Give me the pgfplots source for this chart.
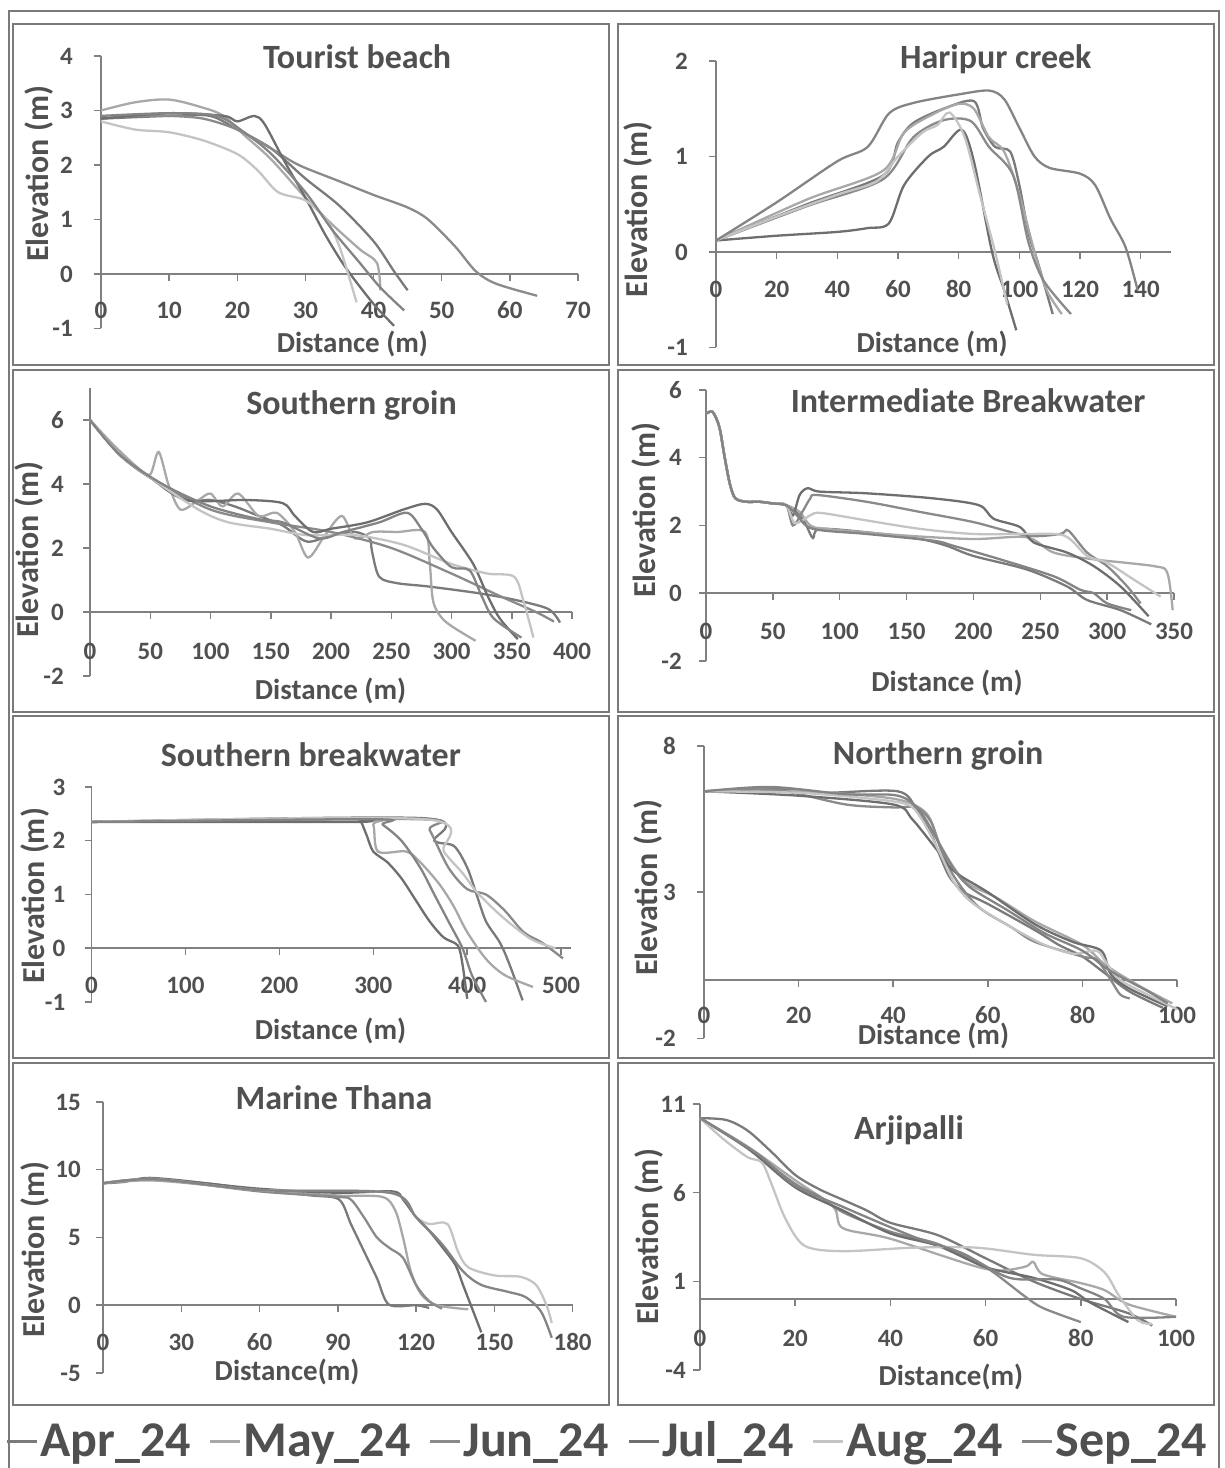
\documentclass[border=0pt]{standalone}
\usepackage{fontspec}
\setmainfont{Carlito}
\usepackage{pgfplots}
\pgfplotsset{compat=1.18}

\definecolor{axgray}{HTML}{808080}
\definecolor{boxgray}{HTML}{7A7A7A}
\definecolor{txtgray}{HTML}{505050}
\definecolor{capr}{HTML}{7A7A7A}
\definecolor{cmay}{HTML}{A8A8A8}
\definecolor{cjun}{HTML}{8A8A8A}
\definecolor{cjul}{HTML}{6E6E6E}
\definecolor{caug}{HTML}{C4C4C4}
\definecolor{csep}{HTML}{848484}

\newcommand\titlefont{\bfseries\fontsize{34bp}{40bp}\selectfont}
\newcommand\labfont{\bfseries\fontsize{29bp}{34bp}\selectfont}
\newcommand\ylabfont{\bfseries\fontsize{32bp}{36bp}\selectfont}
\newcommand\tickfont{\bfseries\fontsize{25bp}{29bp}\selectfont}
\newcommand\legfont{\bfseries\fontsize{50bp}{58bp}\selectfont}

\pgfplotsset{
  panel/.style={
    scale only axis,
    axis x line=middle, axis y line=left,
    axis line style={-, draw=axgray, line width=1.8bp},
    tick style={draw=axgray, line width=1.5bp},
    tick align=outside, major tick length=7bp,
    hide obscured x ticks=false, hide obscured y ticks=false,
    ticklabel style={font=\tickfont, text=txtgray, inner sep=0pt},
    xticklabel style={anchor=center},
    yticklabel style={anchor=east},
    /pgf/number format/assume math mode=true,
    every axis plot/.append style={line width=2.3bp, smooth, no markers},
    clip=false,
  },
  tpos/.style 2 args={every axis title/.style={at={(axis description cs:#1,#2)}, anchor=center, font=\titlefont, text=txtgray}},
  xlpos/.style 2 args={every axis x label/.style={at={(axis description cs:#1,#2)}, anchor=center, font=\labfont, text=txtgray}},
  ylpos/.style 2 args={every axis y label/.style={at={(axis description cs:#1,#2)}, anchor=center, rotate=90, font=\ylabfont, text=txtgray}},
}

\begin{document}
\begin{tikzpicture}[x=1bp,y=1bp]

% frames
\draw[boxgray, line width=1.6bp] (9,0) -- (9,1457) -- (1219,1457) -- (1219,0);
\foreach \yt/\yb in {1444/1103, 1098/756, 752/410, 405/63}{
  \draw[boxgray, line width=2bp] (13,\yb) rectangle (609,\yt);
  \draw[boxgray, line width=2bp] (618,\yb) rectangle (1214,\yt);
}

% Tourist beach
\begin{axis}[panel, at={(101bp,1139.5bp)}, width=477bp, height=272.5bp,
  xmin=0, xmax=70, ymin=-1, ymax=4, xtick={0,10,...,70}, ytick={-1,0,...,4},
  title={Tourist beach}, xlabel={Distance (m)}, ylabel={Elevation (m)},
  tpos={0.537}{0.996}, xlpos={0.527}{-0.057}, ylpos={-0.130}{0.567},
  xticklabel style={yshift=-29bp}, yticklabel style={xshift=-21bp}]
\addplot[capr] coordinates {(0,2.85)(10,2.9)(16,2.9)(20,2.65)(25,2.3)(30,1.75)(35,1.25)(40,0.6)(43,0.05)(45,-0.3)};
\addplot[cmay] coordinates {(0,3.0)(5,3.15)(10,3.2)(15,3.05)(18,2.9)(21,2.55)(25,2.1)(30,1.4)(34,0.9)(38,0.45)(40.5,0.2)(41,-0.3)};
\addplot[cjun] coordinates {(0,2.85)(5,2.9)(10,2.9)(15,2.85)(20,2.65)(25,2.3)(29,2.0)(35,1.7)(40,1.45)(45,1.22)(48,1.0)(52,0.5)(55,0.05)(58,-0.18)(64,-0.4)};
\addplot[cjul] coordinates {(0,2.85)(10,2.95)(18,2.9)(20,2.8)(22.5,2.9)(24,2.75)(27,2.05)(30,1.4)(33,0.7)(36,0.1)(40,-0.55)(43,-0.95)};
\addplot[caug] coordinates {(0,2.8)(5,2.65)(10,2.6)(15,2.45)(20,2.2)(23,1.9)(26,1.5)(30,1.35)(33,1.0)(35,0.5)(37.5,-0.52)};
\addplot[csep] coordinates {(0,2.9)(10,2.95)(17,2.9)(21,2.6)(25,2.2)(30,1.5)(34,0.8)(38,0.2)(41,-0.25)(44.5,-0.67)};
\end{axis}

% Haripur creek
\begin{axis}[panel, at={(716bp,1120.5bp)}, width=455bp, height=286.5bp,
  xmin=0, xmax=150, ymin=-1, ymax=2, xtick={0,20,...,140}, ytick={-1,0,1,2},
  title={Haripur creek}, xlabel={Distance (m)}, ylabel={Elevation (m)},
  tpos={0.615}{1.007}, xlpos={0.475}{0.012}, ylpos={-0.171}{0.483},
  xticklabel style={yshift=-30bp}, yticklabel style={xshift=-21bp}]
\addplot[capr] coordinates {(0,0.12)(30,0.5)(55,0.8)(60,1.15)(65,1.35)(75,1.5)(85,1.58)(88,1.3)(92,1.1)(97,1.05)(100,0.7)(103,0.2)(106,-0.1)(111,-0.65)};
\addplot[cmay] coordinates {(0,0.12)(30,0.55)(55,0.85)(62,1.25)(72,1.45)(80,1.55)(85,1.5)(90,1.2)(95,1.05)(100,0.6)(105,0)(109,-0.4)(114,-0.65)};
\addplot[cjun] coordinates {(0,0.12)(30,0.48)(55,0.76)(65,1.2)(75,1.38)(84,1.37)(90,1.1)(98,0.8)(103,0.1)(108,-0.3)(117,-0.65)};
\addplot[cjul] coordinates {(0,0.12)(20,0.17)(40,0.21)(50,0.25)(57,0.3)(62,0.7)(70,1.0)(75,1.1)(81,1.28)(85,0.95)(91,0)(95,-0.4)(99,-0.82)};
\addplot[caug] coordinates {(0,0.12)(20,0.37)(40,0.6)(53,0.74)(60,1.0)(68,1.25)(73,1.33)(77,1.46)(82,1.2)(87,0.6)(92,0)(96,-0.55)};
\addplot[csep] coordinates {(0,0.12)(20,0.52)(40,0.95)(50,1.1)(57,1.45)(65,1.56)(80,1.65)(90,1.69)(95,1.6)(100,1.3)(105,1.0)(110,0.88)(120,0.82)(125,0.7)(130,0.35)(135,0.05)(139,-0.4)};
\end{axis}

% Southern groin
\begin{axis}[panel, at={(90bp,792bp)}, width=482bp, height=288bp,
  xmin=0, xmax=400, ymin=-2, ymax=7, xtick={0,50,...,400}, ytick={-2,0,...,6},
  title={Southern groin}, xlabel={Distance (m)}, ylabel={Elevation (m)},
  tpos={0.5425}{0.941}, xlpos={0.499}{-0.052}, ylpos={-0.127}{0.4375},
  xticklabel style={yshift=-32bp}, yticklabel style={xshift=-19bp}]
\addplot[capr] coordinates {(0,6)(25,4.9)(50,4.2)(80,3.5)(100,3.5)(120,3.3)(140,3.0)(160,2.7)(180,2.2)(200,2.4)(220,2.5)(232,2.3)(234,1.9)(240,1.1)(255,0.9)(280,0.8)(320,0.6)(350,0.4)(380,0.1)(390,-0.33)};
\addplot[cmay] coordinates {(0,6)(20,5.2)(40,4.5)(50,4.3)(57,5.0)(65,4.0)(75,3.2)(90,3.5)(100,3.7)(110,3.3)(123,3.7)(140,3.0)(155,3.1)(170,2.5)(181,1.7)(195,2.4)(209,3.0)(220,2.3)(235,2.5)(255,2.5)(278,2.5)(282,1.5)(285,0.3)(295,-0.3)(320,-0.9)};
\addplot[cjun] coordinates {(0,6)(25,4.9)(50,4.2)(100,3.2)(150,2.8)(200,2.5)(250,2.0)(300,1.2)(340,0.5)(370,0.0)(385,-0.3)};
\addplot[cjul] coordinates {(0,6)(25,4.9)(50,4.2)(80,3.5)(130,3.5)(160,3.4)(170,3.0)(185,2.5)(200,2.6)(230,2.8)(260,3.2)(278,3.38)(288,3.2)(300,2.5)(318,1.5)(330,0.5)(340,-0.2)(355,-0.85)};
\addplot[caug] coordinates {(0,6)(25,4.9)(50,4.2)(90,3.2)(115,2.8)(150,2.6)(180,2.4)(220,2.4)(260,2.1)(300,1.5)(330,1.2)(352,1.1)(360,0.3)(368,-0.8)};
\addplot[csep] coordinates {(0,6)(25,4.9)(60,4.0)(100,3.3)(140,2.9)(160,2.8)(190,2.3)(210,2.5)(240,2.8)(263,3.1)(275,2.6)(285,2.0)(300,1.4)(315,1.3)(325,0.5)(335,-0.2)(358,-0.8)};
\end{axis}

% Intermediate Breakwater
\begin{axis}[panel, at={(706bp,807bp)}, width=468bp, height=271bp,
  xmin=0, xmax=350, ymin=-2, ymax=6, xtick={0,50,...,350}, ytick={-2,0,...,6},
  title={Intermediate Breakwater}, xlabel={Distance (m)}, ylabel={Elevation (m)},
  tpos={0.560}{0.959}, xlpos={0.515}{-0.081}, ylpos={-0.128}{0.557},
  xticklabel style={yshift=-31bp}, yticklabel style={xshift=-17bp}]
\addplot[capr] coordinates {(0,5.3)(5,5.35)(10,4.9)(14,4.0)(18,3.2)(22,2.8)(30,2.7)(40,2.7)(50,2.65)(60,2.6)(70,2.3)(75,2.0)(80,1.63)(85,1.9)(120,1.8)(160,1.6)(180,1.4)(200,1.1)(240,0.7)(270,0.2)(285,-0.2)(310,-0.5)(333,-0.92)};
\addplot[cmay] coordinates {(0,5.3)(5,5.35)(10,4.9)(14,4.0)(18,3.2)(22,2.8)(30,2.7)(40,2.7)(50,2.65)(60,2.6)(70,2.4)(78,2.0)(90,1.9)(150,1.7)(200,1.6)(240,1.65)(260,1.2)(290,1.0)(335,0.8)(345,0.6)(349,-0.5)};
\addplot[cjun] coordinates {(0,5.3)(5,5.35)(10,4.9)(14,4.0)(18,3.2)(22,2.8)(30,2.7)(40,2.7)(50,2.65)(60,2.6)(65,2.0)(72,2.4)(78,2.8)(83,2.9)(120,2.7)(160,2.4)(200,2.1)(240,1.7)(265,1.75)(271,1.85)(285,1.2)(300,0.8)(315,0.2)(325,-0.3)};
\addplot[cjul] coordinates {(0,5.3)(5,5.35)(10,4.9)(14,4.0)(18,3.2)(22,2.8)(30,2.7)(40,2.7)(50,2.65)(60,2.6)(65,2.3)(70,2.9)(76,3.1)(85,3.0)(120,2.95)(170,2.8)(204,2.6)(215,2.2)(235,1.95)(245,1.5)(270,1.2)(290,0.8)(310,0.2)(331,-0.68)};
\addplot[caug] coordinates {(0,5.3)(5,5.35)(10,4.9)(14,4.0)(18,3.2)(22,2.8)(30,2.7)(40,2.7)(50,2.65)(60,2.6)(66.5,2.07)(78,2.3)(86,2.37)(120,2.15)(160,1.9)(200,1.75)(240,1.75)(268,1.7)(285,1.1)(300,0.9)(320,0.4)(340,-0.1)};
\addplot[csep] coordinates {(0,5.3)(5,5.35)(10,4.9)(14,4.0)(18,3.2)(22,2.8)(30,2.7)(40,2.7)(50,2.65)(60,2.6)(68,2.3)(80,1.9)(120,1.75)(170,1.55)(185,1.4)(220,1.0)(260,0.5)(280,0.1)(290,0.0)(300,-0.3)(318,-0.5)};
\end{axis}

% Southern breakwater
\begin{axis}[panel, at={(91.5bp,466bp)}, width=479bp, height=215bp,
  xmin=0, xmax=510, ymin=-1, ymax=3, xtick={0,100,...,500}, ytick={-1,0,...,3},
  title={Southern breakwater}, xlabel={Distance (m)}, ylabel={Elevation (m)},
  tpos={0.458}{1.149}, xlpos={0.499}{-0.135}, ylpos={-0.118}{0.493},
  xticklabel style={yshift=-30bp}, yticklabel style={xshift=-19bp}]
\addplot[capr] coordinates {(0,2.35)(353,2.42)(365,2.0)(386,1.9)(400,1.5)(410,1.0)(420,0.5)(435,0.1)(445,-0.3)(459,-0.97)};
\addplot[cmay] coordinates {(0,2.35)(290,2.4)(300,2.3)(305,1.8)(335,1.8)(350,1.6)(370,1.2)(385,0.8)(400,0.3)(420,-0.2)(440,-0.5)(470,-0.72)};
\addplot[cjun] coordinates {(0,2.35)(350,2.4)(360,2.2)(380,1.5)(400,1.1)(420,1.0)(440,0.7)(460,0.3)(480,0.1)(502,-0.19)};
\addplot[cjul] coordinates {(0,2.35)(280,2.35)(286,2.38)(293,2.1)(300,1.8)(315,1.6)(330,1.3)(345,0.9)(360,0.5)(375,0.2)(390,0.05)(395,-0.3)(400,-0.94)};
\addplot[caug] coordinates {(0,2.35)(355,2.4)(375,1.8)(395,1.4)(410,1.05)(430,0.7)(450,0.4)(470,0.15)(494,0.0)};
\addplot[csep] coordinates {(0,2.35)(300,2.4)(310,2.3)(330,2.0)(350,1.5)(365,1.0)(380,0.5)(395,0.0)(405,-0.5)(420,-1.0)};
\end{axis}

% Northern groin
\begin{axis}[panel, at={(704bp,429.5bp)}, width=473bp, height=292.5bp,
  xmin=0, xmax=100, ymin=-2, ymax=8, xtick={0,20,...,100}, ytick={-2,3,8},
  title={Northern groin}, xlabel={Distance (m)}, ylabel={Elevation (m)},
  tpos={0.495}{0.966}, xlpos={0.485}{0.0085}, ylpos={-0.119}{0.515},
  xticklabel style={yshift=-28bp}, yticklabel style={xshift=-21bp}]
\addplot[capr] coordinates {(0,6.45)(10,6.45)(15,6.55)(25,6.4)(41,6.45)(45,5.8)(48,5.0)(50,4.2)(52,3.5)(55,3.0)(60,2.6)(70,1.7)(75,1.2)(80,0.8)(85,0.2)(90,-0.4)(97,-0.95)};
\addplot[cmay] coordinates {(0,6.45)(20,6.45)(40,6.2)(47,5.7)(50,4.6)(55,3.4)(62,2.8)(70,2.0)(80,1.2)(85,0.5)(92,-0.2)(99,-0.8)};
\addplot[cjun] coordinates {(0,6.45)(15,6.5)(30,6.0)(40,5.9)(45,5.9)(48,5.4)(50,4.5)(53,3.5)(58,2.5)(65,1.8)(70,1.3)(80,0.8)(83,0.7)(86,0)(88,-0.5)(90,-0.63)};
\addplot[cjul] coordinates {(0,6.45)(20,6.3)(40,6.0)(44,5.5)(49,4.5)(53,3.7)(60,3.0)(70,1.9)(78,1.3)(84,1.0)(86,0.2)(90,-0.3)(98,-0.9)};
\addplot[caug] coordinates {(0,6.45)(20,6.4)(35,6.2)(43,6.0)(46,5.5)(50,4.3)(53,3.3)(57,2.6)(65,1.8)(72,1.2)(78,0.9)(83,1.0)(85,0.6)(88,0)(95,-0.6)(100,-1.0)};
\addplot[csep] coordinates {(0,6.45)(14,6.6)(30,6.35)(41,6.3)(46,5.7)(52,4.0)(56,3.2)(64,2.4)(72,1.6)(80,1.0)(86,0.3)(94,-0.4)(98,-0.8)};
\end{axis}

% Marine Thana
\begin{axis}[panel, at={(103bp,95bp)}, width=469.6bp, height=271bp,
  xmin=0, xmax=180, ymin=-5, ymax=15, xtick={0,30,...,180}, ytick={-5,0,...,15},
  title={Marine Thana}, xlabel={Distance(m)}, ylabel={Elevation (m)},
  tpos={0.492}{1.015}, xlpos={0.392}{0.004}, ylpos={-0.145}{0.454},
  xticklabel style={yshift=-30bp}, yticklabel style={xshift=-15bp},
  legend style={at={(axis description cs:-0.215,-0.247)}, anchor=west, draw=none, fill=none,
    legend columns=6, font=\legfont, text=txtgray,
    /tikz/every even column/.append style={column sep=16bp}, nodes={inner sep=2bp}},
  legend image code/.code={\draw[#1, sharp plot, line width=3bp] (0bp,-2bp) -- (30bp,-2bp);}]
\addplot[capr] coordinates {(0,9)(8,9.1)(18,9.4)(40,9.0)(60,8.5)(80,8.1)(90.5,7.8)(95,6.0)(100,4.0)(105,2.0)(109.6,0.05)(120,0)(125,-0.2)};
\addplot[cmay] coordinates {(0,9)(20,9.2)(60,8.5)(90,8.1)(107,8.0)(112,7.0)(115,5.0)(118,2.5)(122,0.8)(128,0)(140,-0.3)};
\addplot[cjun] coordinates {(0,9)(20,9.3)(60,8.4)(90,8.0)(95,7.8)(100,6.5)(105,5.0)(110,4.2)(115,3.5)(120,1.5)(125,0.3)(130,-0.25)};
\addplot[cjul] coordinates {(0,9)(20,9.3)(60,8.6)(90,8.3)(111,8.4)(115,7.8)(120,6.5)(125,5.5)(130,4.3)(135,3.0)(138,1.5)(141,0)(145,-2.0)};
\addplot[caug] coordinates {(0,9)(20,9.3)(60,8.5)(110,8.3)(120,6.5)(125,6.0)(132,6.0)(136,4.0)(140,2.8)(150,2.2)(160,2.1)(166,1.5)(170,0)(172,-1.3)};
\addplot[csep] coordinates {(0,9)(20,9.3)(60,8.5)(110,8.3)(120,6.5)(130,4.5)(138,2.5)(145,1.5)(155,1.0)(162,0.6)(168,-0.5)(172,-2.4)};
\legend{\vphantom{l}Apr\_24, \vphantom{l}May\_24, \vphantom{l}Jun\_24, \vphantom{l}Jul\_24, \vphantom{l}Aug\_24, \vphantom{l}Sep\_24}
\end{axis}

% Arjipalli
\begin{axis}[panel, at={(700bp,98bp)}, width=476bp, height=266bp,
  xmin=0, xmax=100, ymin=-4, ymax=11, xtick={0,20,...,100}, ytick={-4,1,6,11},
  title={Arjipalli}, xlabel={Distance(m)}, ylabel={Elevation (m)},
  tpos={0.439}{0.902}, xlpos={0.527}{-0.026}, ylpos={-0.107}{0.5},
  xticklabel style={yshift=-32bp}, yticklabel style={xshift=-7bp}]
\addplot[capr] coordinates {(0,10.2)(5.5,10.1)(10,9.5)(15,8.3)(20,7.0)(25,6.2)(30,5.6)(35,5.0)(40,4.3)(50,3.6)(60,2.3)(70,1.0)(80,0)(90,-0.8)(95,-1.5)};
\addplot[cmay] coordinates {(0,10.2)(10,8.6)(20,6.7)(28,5.2)(30,4.0)(40,3.4)(60,1.7)(68,1.8)(70,2.1)(72,1.4)(80,0.9)(85,0.5)(90,-0.3)(100,-1.0)};
\addplot[cjun] coordinates {(0,10.2)(10,8.5)(20,6.5)(25,5.8)(30,4.9)(40,3.8)(50,3.1)(60,1.8)(68,0.2)(72,-0.5)(80,-1.3)};
\addplot[cjul] coordinates {(0,10.2)(10,8.5)(20,6.3)(30,5.0)(40,3.7)(50,3.0)(60,1.8)(70,1.2)(78,0.5)(82,-0.2)(90,-1.3)};
\addplot[caug] coordinates {(0,10.2)(5,9.0)(10,8.0)(13,7.7)(15,6.5)(18,4.5)(22,3.0)(30,2.7)(45,2.9)(58,2.9)(70,2.5)(80,2.3)(85,1.5)(88,0.2)(92,-1.2)(95,-1.4)};
\addplot[csep] coordinates {(0,10.2)(12,8.2)(20,6.4)(30,5.2)(45,3.5)(55,2.6)(65,1.2)(75,1.1)(80,0.6)(85,0)(89,-1.0)(100,-1.0)};
\end{axis}

\pgfresetboundingbox
\useasboundingbox (0,0) rectangle (1224,1468);
\end{tikzpicture}
\end{document}
